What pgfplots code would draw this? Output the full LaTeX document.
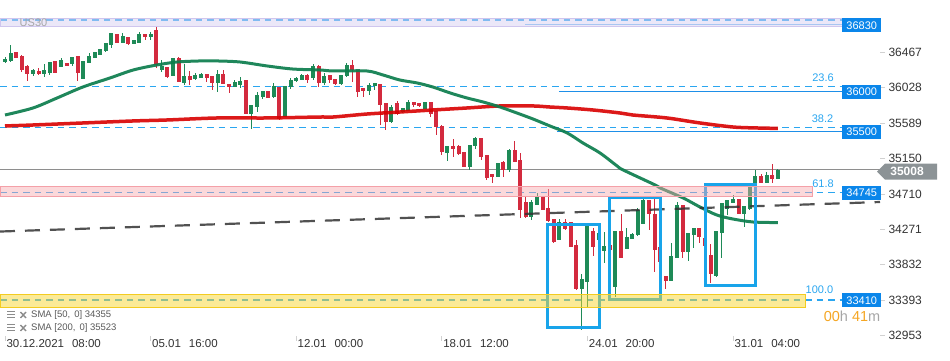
\documentclass[border=0pt]{standalone}
\usepackage{pgfplots}
\pgfplotsset{compat=1.18}
\usepackage{pgfplotstable}
\usepackage{fontspec}
\setmainfont{Liberation Sans}
\definecolor{cup}{HTML}{1E8A57}
\definecolor{cdn}{HTML}{D32A3E}
\definecolor{smaG}{HTML}{0C7D4D}
\definecolor{smaR}{HTML}{D80000}
\definecolor{fibB}{HTML}{2AA6F0}
\definecolor{lblB}{HTML}{0A86EA}
\definecolor{lineB}{HTML}{1E8FE8}
\definecolor{boxB}{HTML}{18A4EA}
\definecolor{lavF}{HTML}{D8D0F2}
\definecolor{lavE}{HTML}{CFC6EE}
\definecolor{pinkF}{HTML}{F7A8AE}
\definecolor{pinkE}{HTML}{F4A0A8}
\definecolor{yelF}{HTML}{F8D630}
\definecolor{yelE}{HTML}{F3CC20}
\definecolor{txt}{HTML}{333333}
\definecolor{priceG}{HTML}{8C9396}
\definecolor{priceL}{HTML}{8E8E8E}
\definecolor{orng}{HTML}{F5A623}

\pgfplotstableread{
i o h l c
0 36346 36412 36330 36380
1 36362 36557 36350 36454
5 36197 36256 36173 36238
7 36197 36321 36156 36238
8 36213 36346 36185 36342
10 36288 36399 36284 36362
12 36321 36408 36300 36404
14 36144 36362 36142 36359
15 36337 36454 36330 36421
16 36399 36474 36396 36470
17 36433 36507 36429 36504
18 36486 36582 36474 36578
19 36566 36710 36516 36702
21 36585 36702 36582 36660
23 36576 36619 36569 36613
24 36590 36722 36588 36690
26 36660 36722 36619 36693
28 36247 36371 36226 36288
30 36176 36396 36173 36392
32 36089 36318 36061 36173
34 36144 36206 36123 36185
35 36156 36213 36144 36197
38 36089 36247 35978 36194
41 36040 36123 36036 36094
42 36070 36164 36027 36111
44 35710 35817 35512 35813
45 35792 35978 35730 35937
46 35916 35990 35884 35987
48 35916 36082 35896 36040
50 35668 36052 35660 36049
51 36040 36144 36008 36123
52 36111 36156 36098 36144
53 36132 36197 36123 36176
55 36156 36321 36123 36297
57 36089 36206 36061 36173
60 36082 36189 36061 36185
61 36173 36337 36164 36309
65 35990 36082 35937 36061
66 36049 36089 35999 36082
69 35606 35813 35586 35784
71 35730 35776 35710 35772
72 35742 35875 35739 35846
75 35763 35850 35760 35846
79 35221 35308 35122 35305
83 35048 35321 35007 35317
84 35308 35412 35264 35400
88 34924 35094 34920 35090
90 35007 35264 34986 35255
94 34428 34635 34387 34601
95 34573 34718 34569 34676
99 34139 34396 34135 34353
103 33540 33717 33023 33652
104 33622 34309 33312 34304
106 34139 34263 34102 34226
107 34006 34242 33850 34056
109 33560 34247 33436 34242
111 34036 34284 34024 34172
112 34160 34222 34148 34213
113 34201 34532 34189 34511
114 34346 34656 34341 34635
119 33634 34098 33631 33941
120 33919 34614 33916 34573
122 33994 34226 33882 34222
123 34201 34288 34043 34284
127 33693 34247 33676 34242
128 34230 34601 33912 34594
129 34532 34639 34449 34635
130 34606 34697 34601 34647
132 34461 34564 34304 34561
133 34532 34821 34511 34800
134 34800 35007 34796 34924
136 34850 34982 34842 34945
138 34904 35016 34902 35008
}\up

\pgfplotstableread{
i o h l c
2 36466 36470 36392 36399
3 36421 36427 36226 36256
4 36297 36303 36111 36206
6 36235 36268 36191 36197
9 36350 36352 36206 36213
11 36330 36334 36293 36300
13 36412 36414 36111 36213
20 36693 36697 36582 36585
22 36652 36656 36557 36569
25 36690 36693 36619 36660
27 36743 36793 36268 36309
29 36284 36288 36144 36164
31 36392 36412 36098 36102
33 36164 36235 36061 36123
36 36194 36197 36102 36151
37 36173 36176 35999 36089
39 36194 36247 36070 36082
40 36070 36073 35958 36040
43 36123 36127 35698 35710
47 35987 35990 35894 35903
49 36032 36036 35627 35648
54 36176 36197 36082 36132
56 36297 36309 36032 36089
58 36185 36189 36082 36123
59 36132 36135 36061 36082
62 36309 36371 36102 36247
63 36247 36251 35916 35978
64 36020 36024 35916 35990
67 36073 36077 35565 35822
68 35834 35838 35503 35606
70 35834 35866 35689 35710
73 35846 35850 35784 35813
74 35834 35838 35784 35804
76 35846 35850 35660 35710
77 35730 35735 35441 35544
78 35553 35565 35193 35234
80 35305 35388 35172 35267
81 35305 35317 35193 35205
82 35226 35230 35044 35048
85 35400 35404 35131 35172
86 35193 35197 34883 34917
87 34957 34961 34850 34924
89 35097 35122 34924 35016
91 35255 35367 35106 35110
92 35131 35214 34408 34511
93 34601 34676 34408 34428
96 34676 34681 34507 34511
97 34532 34768 34366 34378
98 34396 34399 34105 34118
100 34353 34396 34263 34284
101 34353 34366 34052 34056
102 34077 34139 33519 33540
105 34251 34284 33941 34056
108 34077 34102 33953 34015
110 34242 34461 33919 33924
115 34635 34639 34263 34461
116 34461 34644 33746 34024
117 34052 34102 33684 33866
118 33693 33696 33528 33634
121 34573 34577 33912 33994
124 34284 34288 34098 34180
125 34164 34189 33932 34065
126 33953 34089 33609 33717
131 34644 34647 34458 34461
135 34933 34957 34846 34850
137 34945 35081 34842 34904
}\dn

\pgfplotstableread{
i p
0 35689
5 35776
9.3 35900
13.9 36036
18.75 36148
22.9 36247
27.1 36309
30.7 36346
34.8 36359
37.9 36359
42 36346
46.8 36297
51.4 36259
56.25 36247
58.6 36235
64.6 36235
67.5 36185
70.5 36123
73.6 36086
76.4 36036
79.5 35962
82.5 35900
85.4 35850
88.4 35788
91.4 35714
94.3 35639
97.3 35553
100.4 35466
103.2 35342
106.25 35218
109.3 35057
110.4 35007
116.1 34821
117 34784
121.1 34660
124.1 34548
127.1 34449
130 34399
133.6 34362
138 34355
}\smaf

\pgfplotstableread{
i p
0 35553
5 35565
13.9 35590
22.9 35615
28.9 35627
37.9 35652
46.8 35652
56.25 35664
58.6 35664
64.6 35701
70.5 35726
76.4 35751
82.5 35776
88.4 35801
94.3 35801
97.3 35788
100.4 35776
105 35751
109.8 35714
112.1 35689
118.2 35652
124.1 35590
130 35540
134.3 35528
138 35523
}\smat

\begin{document}
\begin{tikzpicture}
\useasboundingbox (0,0) rectangle (950pt,361pt);
\begin{axis}[
  at={(0pt,25pt)}, anchor=south west, scale only axis,
  width=880pt, height=336pt,
  xmin=-0.893, xmax=156.25, ymin=32948.6, ymax=37115,
  axis line style={draw=none},
  tick align=outside, major tick length=5pt,
  tick style={draw=black!18, line width=0.8pt},
  xtick={0,26,52,78,104,130},
  xticklabels={30.12.2021\hspace{8pt}08:00, 05.01\hspace{8pt}16:00, 12.01\hspace{8pt}00:00, 18.01\hspace{8pt}12:00, 24.01\hspace{8pt}20:00, 31.01\hspace{8pt}04:00},
  xticklabel style={anchor=west, xshift=-2pt, yshift=-3pt, font=\fontsize{11.5}{13}\selectfont, text=txt},
  ytick={32953,33393,33832,34271,34710,35150,35589,36028,36467},
  yticklabels={32953,33393,33832,34271,34710,35150,35589,36028,36467},
  yticklabel pos=right,
  yticklabel style={font=\fontsize{12}{14}\selectfont, text=txt},
  scaled y ticks=false,
  clip=true,
  candle/.style={forget plot, draw=none, mark=none, error bars/.cd, y dir=both, y explicit, error mark=none},
]
% fib dashed lines
\addplot[forget plot, fibB, line width=1.1pt, dash pattern=on 6.5pt off 5pt] coordinates {(-0.893,36867) (149.6,36867)};
\addplot[forget plot, fibB, line width=1.1pt, dash pattern=on 6.5pt off 5pt] coordinates {(-0.893,36040) (149.5,36040)};
\addplot[forget plot, fibB, line width=1.1pt, dash pattern=on 6.5pt off 5pt] coordinates {(-0.893,35537) (149.5,35537)};
\addplot[forget plot, fibB, line width=1.1pt, dash pattern=on 6.5pt off 5pt] coordinates {(-0.893,34731) (149.5,34731)};
\addplot[forget plot, fibB, line width=1.1pt, dash pattern=on 6.5pt off 5pt] coordinates {(-0.893,33395) (149.5,33395)};
% solid level lines
\addplot[forget plot, lineB!60, line width=1.2pt] coordinates {(92.86,36811) (149.6,36811)};
\addplot[forget plot, lineB, line width=1.3pt] coordinates {(98.9,35980) (149.5,35980)};
\addplot[forget plot, lineB, line width=1.3pt] coordinates {(98.6,35487) (149.5,35487)};
% current price line
\addplot[forget plot, priceL, line width=1pt] coordinates {(-0.893,35008) (156.25,35008)};
% candles: wicks
\addplot[candle, error bar style={line width=1pt, draw=cup}]
  table[x=i, y expr={(\thisrow{h}+\thisrow{l})/2}, y error expr={(\thisrow{h}-\thisrow{l})/2}] {\up};
\addplot[candle, error bar style={line width=1pt, draw=cdn}]
  table[x=i, y expr={(\thisrow{h}+\thisrow{l})/2}, y error expr={(\thisrow{h}-\thisrow{l})/2}] {\dn};
% candles: bodies
\addplot[candle, error bar style={line width=4pt, draw=cup}]
  table[x=i, y expr={(\thisrow{o}+\thisrow{c})/2}, y error expr={(\thisrow{c}-\thisrow{o})/2+4}] {\up};
\addplot[candle, error bar style={line width=4pt, draw=cdn}]
  table[x=i, y expr={(\thisrow{o}+\thisrow{c})/2}, y error expr={(\thisrow{o}-\thisrow{c})/2+4}] {\dn};
% SMAs
\addplot[forget plot, smaR, line width=3.5pt, opacity=0.9, smooth] table[x=i, y=p] {\smat};
\addplot[forget plot, smaG, line width=3pt, opacity=0.92, smooth] table[x=i, y=p] {\smaf};
% trend line
\addplot[forget plot, black!80, line width=2.2pt, dash pattern=on 15pt off 10pt, opacity=0.85] coordinates {(-0.893,34244) (156.25,34610)};
% boxes
\addplot[forget plot, boxB, line width=3pt] coordinates {(96.96,34325) (106.07,34325) (106.07,33060) (96.96,33060)} -- cycle;
\addplot[forget plot, boxB, line width=3pt] coordinates {(107.86,34660) (117.14,34660) (117.14,33407) (107.86,33407)} -- cycle;
\addplot[forget plot, boxB, line width=3pt] coordinates {(125,34833) (134.1,34833) (134.1,33569) (125,33569)} -- cycle;
% zones
\addplot[forget plot, fill=lavF, fill opacity=0.5, draw=lavE, line width=0.8pt] coordinates {(-0.893,36892) (149.6,36892) (149.6,36793) (-0.893,36793)} -- cycle;
\addplot[forget plot, fill=pinkF, fill opacity=0.45, draw=pinkE, line width=0.8pt] coordinates {(-0.893,34809) (144.1,34809) (144.1,34676) (-0.893,34676)} -- cycle;
\addplot[forget plot, fill=yelF, fill opacity=0.5, draw=yelE, line width=0.8pt] coordinates {(-0.893,33466) (142.86,33466) (142.86,33304) (-0.893,33304)} -- cycle;
\end{axis}

% price labels (blue boxes)
\foreach \v/\yy in {36830/335.7, 36000/269, 35500/229.2, 34745/168.2, 33410/60.7}{
  \node[fill=lblB, text=white, inner sep=0pt, minimum width=39pt, minimum height=14pt, anchor=west, font=\fontsize{11}{12}\selectfont] at (842pt,\yy pt) {\v};
}
% current price tag
\fill[priceG] (877pt,189.3pt) -- (885pt,197.3pt) -- (937pt,197.3pt) -- (937pt,181.3pt) -- (885pt,181.3pt) -- cycle;
\node[text=white, font=\fontsize{12}{14}\selectfont\bfseries, inner sep=0pt] at (907pt,189.3pt) {35008};
% fib labels
\node[text=fibB, font=\fontsize{11}{12}\selectfont, inner sep=0pt] at (823pt,283.3pt) {23.6};
\node[text=fibB, font=\fontsize{11}{12}\selectfont, inner sep=0pt] at (822.5pt,242.7pt) {38.2};
\node[text=fibB, font=\fontsize{11}{12}\selectfont, inner sep=0pt] at (823pt,177.7pt) {61.8};
\node[text=fibB, font=\fontsize{11}{12}\selectfont, inner sep=0pt] at (819.5pt,71pt) {100.0};
% timer
\node[font=\fontsize{14.5}{16}\selectfont, inner sep=0pt] at (852pt,45pt) {\textcolor{orng}{00}\textcolor{black!35}{h} \textcolor{orng}{41}\textcolor{black!35}{m}};
% SMA legend
\foreach \yy/\t in {46/{SMA [50,\hspace{4pt}0] 34355}, 33/{SMA [200,\hspace{4pt}0] 35523}}{
  \draw[black!45, line width=1pt] (7pt,\yy pt+3pt) -- (15pt,\yy pt+3pt);
  \draw[black!45, line width=1pt] (7pt,\yy pt) -- (15pt,\yy pt);
  \draw[black!45, line width=1pt] (7pt,\yy pt-3pt) -- (15pt,\yy pt-3pt);
  \draw[black!45, line width=1.4pt] (20.5pt,\yy pt+3pt) -- (26pt,\yy pt-3pt);
  \draw[black!45, line width=1.4pt] (20.5pt,\yy pt-3pt) -- (26pt,\yy pt+3pt);
  \node[anchor=west, text=black!65, font=\fontsize{9.5}{11}\selectfont, inner sep=0pt] at (31pt,\yy pt) {\t};
}
% instrument label
\node[text=black!35, font=\fontsize{11}{12}\selectfont, inner sep=0pt] at (33.5pt,338pt) {US30};
\end{tikzpicture}
\end{document}
